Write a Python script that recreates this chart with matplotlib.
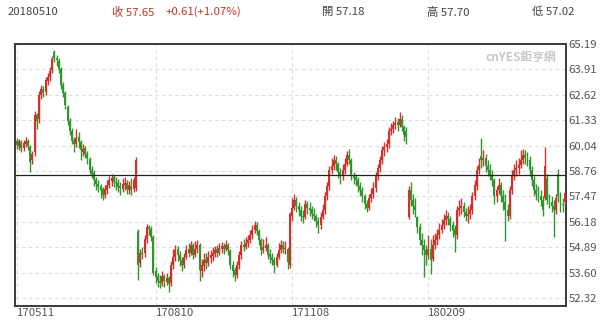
import matplotlib
matplotlib.use('Agg')
import matplotlib.pyplot as plt
import numpy as np

# ---- data ----
opens = [
    60.30, 60.00, 60.20, 59.90, 60.10, 60.30, 59.95, 59.30, 59.70, 61.60,
    61.40, 62.60, 62.90, 62.75, 63.30, 63.50, 63.85, 64.80, 64.50, 64.35,
    63.90, 63.10, 62.70, 62.00, 61.30, 60.80, 60.35, 60.10, 60.50, 60.20,
    59.70, 59.90, 59.60, 59.35, 58.80, 58.65, 58.30, 58.10, 58.00, 57.85,
    57.55, 57.80, 58.05, 58.25, 58.45, 58.20, 58.15, 58.00, 57.85, 58.05,
    58.15, 57.80, 58.00, 57.85, 57.90, 55.70, 54.10, 54.60, 54.60, 55.30,
    55.90, 55.80, 55.40, 53.70, 53.45, 53.20, 53.10, 53.45, 53.15, 53.35,
    53.10, 54.00, 54.40, 54.80, 54.50, 54.25, 54.00, 54.40, 54.80, 54.60,
    55.00, 54.50, 54.80, 55.00, 53.70, 53.95, 54.30, 54.10, 54.35, 54.45,
    54.55, 54.80, 54.60, 54.80, 54.95, 54.80, 55.00, 54.70, 54.00, 53.75,
    53.50, 54.00, 54.50, 55.00, 54.90, 55.10, 55.25, 55.50, 55.75, 56.00,
    55.70, 55.25, 54.75, 54.85, 55.00, 54.55, 54.40, 54.25, 54.00, 54.40,
    54.75, 55.00, 54.80, 54.80, 54.00, 56.50, 56.90, 57.30, 57.00, 56.80,
    56.50, 56.40, 57.10, 56.90, 56.85, 56.60, 56.50, 56.20, 56.00, 56.40,
    56.80, 57.50, 58.00, 58.80, 59.00, 59.30, 59.10, 58.70, 58.50, 58.80,
    59.10, 59.55, 59.30, 58.55, 58.45, 58.30, 58.00, 57.80, 57.50, 57.10,
    56.90, 57.40, 57.60, 57.90, 58.50, 58.90, 59.30, 59.80, 59.95, 60.10,
    60.80, 60.90, 61.10, 61.25, 61.10, 61.40, 61.00, 60.80, 56.40, 57.80,
    57.30, 57.00, 56.40, 55.90, 55.25, 55.00, 54.75, 54.50, 54.80, 54.30,
    55.00, 55.25, 55.50, 55.75, 56.00, 56.25, 56.50, 56.30, 56.00, 55.80,
    55.50, 56.80, 56.90, 57.00, 56.70, 56.50, 56.60, 56.80, 57.50, 58.00,
    58.80, 59.50, 59.30, 59.40, 59.00, 58.80, 58.55, 58.30, 57.50, 57.80,
    58.05, 57.50, 57.20, 56.80, 56.50, 57.80, 58.50, 58.80, 58.90, 59.05,
    59.30, 59.55, 59.40, 59.30, 58.80, 58.30, 57.80, 57.65, 57.50, 57.30,
    57.40, 58.40, 57.30, 57.20, 57.00, 56.80, 58.60, 57.50, 57.10, 57.18,
]
highs = [
    60.45, 60.40, 60.35, 60.35, 60.50, 60.40, 60.05, 59.75, 61.80, 61.70,
    62.80, 63.10, 63.05, 63.50, 63.70, 64.00, 64.60, 64.90, 64.65, 64.50,
    64.00, 63.25, 62.80, 62.10, 61.45, 60.95, 60.50, 60.90, 60.75, 60.35,
    60.10, 60.00, 59.75, 59.45, 59.00, 58.80, 58.45, 58.30, 58.10, 57.95,
    58.05, 58.30, 58.50, 58.60, 58.55, 58.45, 58.35, 58.20, 58.40, 58.45,
    58.30, 58.25, 58.40, 58.45, 59.45, 55.80, 54.80, 54.90, 55.50, 56.05,
    56.00, 55.95, 55.50, 53.90, 53.60, 53.50, 53.70, 53.55, 53.60, 53.45,
    54.20, 54.80, 55.00, 54.95, 54.70, 54.40, 54.60, 55.00, 55.10, 55.20,
    55.10, 55.20, 55.25, 55.10, 54.30, 54.60, 54.60, 54.70, 54.75, 54.90,
    54.95, 55.00, 55.10, 55.15, 55.10, 55.25, 55.10, 54.80, 54.20, 53.90,
    54.20, 54.70, 55.20, 55.30, 55.40, 55.50, 55.75, 56.00, 56.20, 56.15,
    55.80, 55.35, 55.30, 55.40, 55.10, 54.80, 54.60, 54.40, 54.60, 55.10,
    55.25, 55.20, 55.20, 54.90, 56.70, 57.40, 57.60, 57.45, 57.20, 57.00,
    56.80, 57.30, 57.25, 57.20, 57.00, 56.90, 56.60, 56.40, 56.70, 57.10,
    57.70, 58.20, 59.00, 59.40, 59.55, 59.50, 59.20, 58.90, 59.10, 59.40,
    59.75, 59.85, 59.40, 58.70, 58.60, 58.45, 58.20, 57.95, 57.60, 57.30,
    57.60, 57.90, 58.20, 58.70, 59.10, 59.50, 60.00, 60.20, 60.40, 61.00,
    61.20, 61.30, 61.50, 61.45, 61.75, 61.60, 61.10, 61.00, 58.00, 58.20,
    57.60, 57.40, 56.50, 56.10, 55.60, 55.30, 55.00, 55.50, 55.30, 55.50,
    55.60, 55.80, 56.10, 56.30, 56.60, 56.80, 56.70, 56.50, 56.20, 56.00,
    57.00, 57.30, 57.40, 57.20, 56.90, 57.00, 57.10, 57.70, 58.30, 59.00,
    59.40, 60.45, 59.80, 59.60, 59.30, 59.10, 58.80, 58.40, 58.00, 58.40,
    58.20, 57.80, 57.60, 57.10, 58.00, 58.80, 59.10, 59.30, 59.40, 59.80,
    59.85, 59.80, 59.70, 59.50, 59.00, 58.50, 58.10, 58.00, 57.80, 57.50,
    59.95, 58.60, 57.60, 57.50, 57.30, 57.60, 58.85, 57.70, 57.40, 57.70,
]
lows = [
    59.85, 59.80, 59.70, 59.75, 59.95, 59.80, 58.70, 59.10, 59.50, 60.90,
    61.20, 62.40, 62.50, 62.60, 63.10, 63.30, 63.70, 64.30, 64.10, 63.70,
    62.90, 62.50, 61.90, 61.10, 60.60, 60.10, 59.70, 59.95, 59.90, 59.30,
    59.50, 59.40, 59.10, 58.60, 58.40, 58.00, 57.80, 57.70, 57.40, 57.30,
    57.40, 57.60, 57.90, 58.00, 57.95, 57.80, 57.70, 57.55, 57.70, 57.80,
    57.60, 57.60, 57.55, 57.70, 57.75, 53.25, 53.90, 54.30, 54.40, 55.10,
    55.50, 55.20, 53.50, 53.10, 52.90, 52.85, 52.95, 52.90, 53.00, 52.60,
    52.95, 53.80, 54.20, 54.20, 53.95, 53.70, 53.85, 54.30, 54.40, 54.50,
    54.30, 54.40, 54.60, 53.20, 53.40, 53.70, 53.80, 53.95, 54.10, 54.20,
    54.40, 54.40, 54.50, 54.60, 54.55, 54.70, 54.50, 53.80, 53.40, 53.20,
    53.35, 53.80, 54.30, 54.70, 54.80, 54.90, 55.10, 55.30, 55.60, 55.50,
    55.00, 54.50, 54.60, 54.70, 54.30, 54.10, 54.00, 53.60, 53.90, 54.30,
    54.60, 54.60, 54.55, 53.80, 53.85, 56.20, 56.80, 56.70, 56.50, 56.20,
    56.10, 56.30, 56.60, 56.50, 56.30, 56.20, 55.90, 55.60, 55.80, 56.30,
    56.60, 57.30, 57.80, 58.60, 58.80, 58.80, 58.40, 58.10, 58.30, 58.60,
    59.00, 59.10, 58.30, 58.10, 58.00, 57.70, 57.50, 57.20, 56.85, 56.70,
    56.80, 57.20, 57.40, 57.70, 58.30, 58.70, 59.10, 59.50, 59.70, 59.90,
    60.60, 60.70, 60.90, 60.80, 61.00, 60.80, 60.30, 60.10, 56.30, 57.00,
    56.60, 56.40, 55.60, 55.00, 54.50, 53.40, 54.00, 54.30, 53.55, 54.20,
    54.80, 55.00, 55.30, 55.60, 55.80, 56.00, 56.00, 55.70, 55.40, 54.65,
    55.30, 56.50, 56.60, 56.40, 56.20, 56.10, 56.30, 56.60, 57.30, 57.80,
    58.60, 58.90, 59.00, 58.70, 58.50, 58.30, 58.00, 57.10, 57.20, 57.60,
    57.20, 56.80, 55.20, 56.20, 56.30, 57.60, 58.30, 58.50, 58.60, 58.90,
    59.10, 59.10, 59.00, 58.50, 58.00, 57.50, 57.30, 57.20, 57.00, 56.50,
    57.30, 57.10, 56.90, 56.70, 55.40, 56.60, 57.20, 56.70, 56.70, 57.02,
]
closes = [
    60.07, 60.25, 59.90, 60.15, 60.30, 60.00, 59.20, 59.60, 61.60, 61.30,
    62.60, 62.90, 62.70, 63.35, 63.50, 63.80, 64.45, 64.50, 64.40, 63.90,
    63.10, 62.70, 62.10, 61.30, 60.80, 60.30, 60.10, 60.45, 60.20, 59.80,
    59.85, 59.60, 59.40, 58.80, 58.60, 58.30, 58.10, 57.95, 57.80, 57.55,
    57.85, 58.05, 58.30, 58.40, 58.20, 58.15, 57.95, 57.90, 58.10, 58.15,
    57.85, 58.05, 57.80, 58.30, 59.30, 54.00, 54.60, 54.55, 55.30, 55.90,
    55.80, 55.40, 53.60, 53.40, 53.20, 53.10, 53.45, 53.20, 53.35, 53.05,
    54.00, 54.40, 54.75, 54.50, 54.25, 54.00, 54.40, 54.75, 54.60, 55.00,
    54.50, 54.80, 55.00, 53.75, 54.00, 54.25, 54.10, 54.40, 54.50, 54.60,
    54.75, 54.60, 54.85, 54.95, 54.80, 55.00, 54.75, 54.00, 53.70, 53.50,
    54.00, 54.50, 55.00, 54.90, 55.10, 55.25, 55.50, 55.75, 56.00, 55.70,
    55.25, 54.75, 54.90, 55.00, 54.50, 54.40, 54.25, 54.00, 54.40, 54.75,
    55.00, 54.80, 54.85, 54.15, 56.60, 56.90, 57.30, 57.00, 56.80, 56.50,
    56.40, 57.10, 56.90, 56.80, 56.60, 56.50, 56.20, 56.00, 56.40, 56.80,
    57.50, 58.00, 58.80, 59.00, 59.30, 59.10, 58.70, 58.50, 58.80, 59.10,
    59.55, 59.30, 58.55, 58.40, 58.30, 58.00, 57.80, 57.50, 57.10, 56.90,
    57.40, 57.60, 57.90, 58.50, 58.90, 59.30, 59.80, 59.95, 60.10, 60.80,
    60.90, 61.10, 61.20, 61.10, 61.40, 61.00, 60.60, 60.50, 57.80, 57.30,
    57.00, 56.80, 55.90, 55.25, 55.00, 54.75, 54.50, 54.80, 54.25, 55.00,
    55.25, 55.50, 55.75, 56.00, 56.25, 56.50, 56.30, 56.00, 55.75, 55.50,
    56.80, 56.90, 57.00, 56.70, 56.50, 56.60, 56.80, 57.50, 58.05, 58.80,
    59.05, 59.30, 59.40, 59.00, 58.80, 58.55, 58.30, 57.50, 57.80, 58.05,
    57.50, 57.20, 56.80, 56.50, 57.80, 58.50, 58.80, 58.90, 59.05, 59.30,
    59.55, 59.40, 59.30, 58.80, 58.30, 57.80, 57.60, 57.50, 57.30, 56.80,
    59.00, 57.30, 57.20, 57.00, 56.80, 57.40, 57.50, 57.00, 57.04, 57.65,
]
y_ticks = [65.19, 63.91, 62.62, 61.33, 60.04, 58.76, 57.47, 56.18, 54.89, 53.60, 52.32]
x_tick_pos = [0, 63, 125, 187]
x_tick_labels = ['170511', '170810', '171108', '180209']
ref_line = 58.55
header_date = '20180510'
header_close = '收 57.65'
header_change = '+0.61(+1.07%)'
header_open = '開 57.18'
header_high = '高 57.70'
header_low = '低 57.02'

assert len(opens) == len(highs) == len(lows) == len(closes) == 250

plt.rcParams['font.family'] = ['Noto Sans CJK TC', 'DejaVu Sans']

W, H = 611, 325
fig = plt.figure(figsize=(W / 100, H / 100), dpi=100)
ax = fig.add_axes([15 / W, 1 - 306 / H, (566 - 15) / W, (306 - 44) / H])

o = np.array(opens); h = np.array(highs); l = np.array(lows); c = np.array(closes)
x = np.arange(len(c))
RED = '#d42f2a'
GREEN = '#2e962a'
colors = np.where(c >= o, RED, GREEN)

ax.vlines(x, l, h, colors=colors, lw=1.0, zorder=3)
ax.bar(x, np.maximum(np.abs(c - o), 0.05), bottom=np.minimum(o, c), width=0.9,
       color=colors, linewidth=0, zorder=3)

ax.axhline(ref_line, color='#222222', lw=0.9, zorder=4)

ax.set_xlim(-0.9, 249.5)
ax.set_ylim(51.915, 65.19)

ax.yaxis.tick_right()
ax.set_yticks(y_ticks)
ax.set_yticklabels([f'{v:.2f}' for v in y_ticks])
ax.set_xticks(x_tick_pos)
ax.set_xticklabels(x_tick_labels)
for t in ax.get_xticklabels():
    t.set_horizontalalignment('left')
FS = 8.2
ax.tick_params(axis='both', length=0, labelsize=FS, colors='#555555')
ax.tick_params(axis='y', pad=2)
ax.tick_params(axis='x', pad=1.5)
ax.grid(True, color='#dcdcdc', linestyle=(0, (3, 3)), lw=0.8, zorder=0)
for s in ax.spines.values():
    s.set_color('#3a3a3a')
    s.set_linewidth(1.4)

ty = 1 - 12 / H
fig.text(8 / W, ty, header_date, fontsize=FS, color='#444444', va='center')
fig.text(112 / W, ty, header_close, fontsize=FS, color='#c0392b', va='center')
fig.text(166 / W, ty, header_change, fontsize=FS, color='#c0392b', va='center')
fig.text(322 / W, ty, header_open, fontsize=FS, color='#444444', va='center')
fig.text(427 / W, ty, header_high, fontsize=FS, color='#444444', va='center')
fig.text(532 / W, ty, header_low, fontsize=FS, color='#444444', va='center')

fig.text(556 / W, 1 - 57 / H, 'cnYES鉅亨網', fontsize=8.5, color='#c8c8c8',
         fontweight='bold', ha='right', va='center')

fig.savefig('out.png', dpi=100)
